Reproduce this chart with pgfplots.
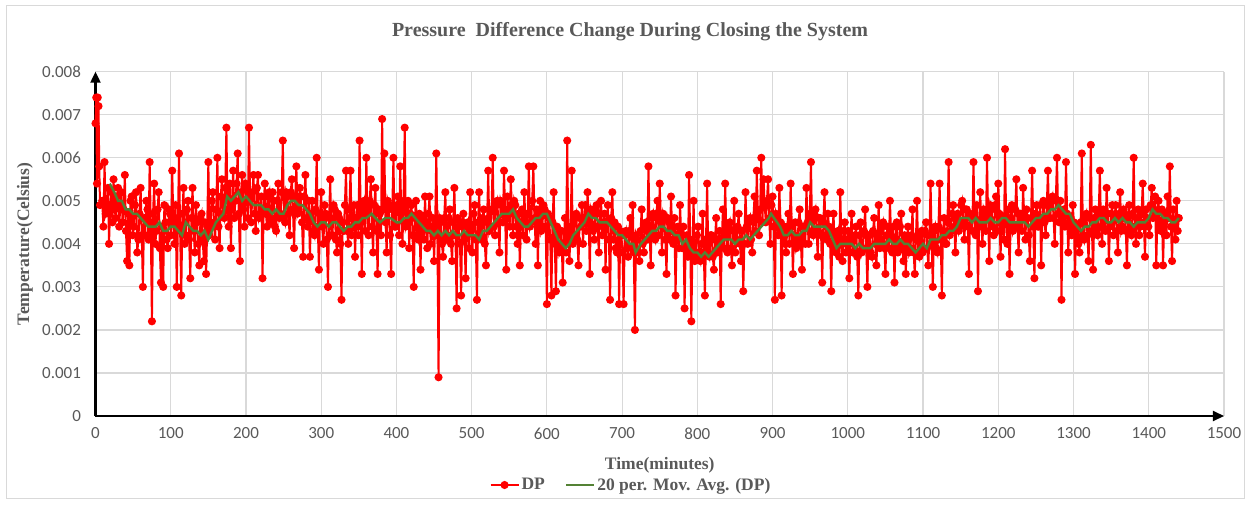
\documentclass[border=0pt]{standalone}
\usepackage{pgfplots}
\pgfplotsset{compat=1.18}
\usepackage{fontspec}
\setmainfont{Liberation Serif}
\newfontfamily\tickfont{Carlito}
\usetikzlibrary{arrows.meta}
\definecolor{txtgray}{HTML}{595959}
\definecolor{gridgray}{HTML}{D9D9D9}
\definecolor{dpred}{HTML}{FF0000}
\definecolor{magreen}{HTML}{548235}
\begin{document}
\begin{tikzpicture}
\useasboundingbox (0,0) rectangle (1250pt,504pt);
\draw[gridgray, line width=1pt] (6pt,6pt) rectangle (1244pt,498pt);
\begin{axis}[
  at={(95.5pt,88pt)}, anchor=south west,
  scale only axis, width=1128.5pt, height=344.3pt,
  xmin=0, xmax=1500, ymin=0, ymax=0.008,
  xtick={0,100,...,1500},
  ytick={0,0.001,0.002,0.003,0.004,0.005,0.006,0.007,0.008},
  scaled y ticks=false, scaled x ticks=false,
  /pgf/number format/assume math mode=true,
  yticklabel style={/pgf/number format/fixed, /pgf/number format/precision=3, font=\tickfont\fontsize{17}{17}\selectfont, text=txtgray, xshift=-11pt},
  xticklabel style={/pgf/number format/1000 sep={}, font=\tickfont\fontsize{17}{17}\selectfont, text=txtgray, yshift=-8pt},
  major tick length=0pt,
  axis x line=bottom, axis y line=left,
  axis line style={black, line width=2.2pt, -{Triangle[length=11pt,width=10pt]}},
  grid=major, major grid style={gridgray, line width=1.2pt},
  title={\fontsize{20}{20}\selectfont\bfseries Pressure~ Difference Change During Closing the System},
  title style={text=txtgray, at={(axis description cs:0.4737,1.098)}, anchor=center},
  xlabel={\fontsize{17.5}{17.5}\selectfont\bfseries Time(minutes)},
  xlabel style={text=txtgray, at={(axis description cs:0.5,-0.142)}, anchor=center},
  ylabel={\fontsize{17.5}{17.5}\selectfont\bfseries Temperature(Celsius)},
  ylabel style={text=txtgray, at={(axis description cs:-0.0625,0.5)}, anchor=center, rotate=0},
  legend columns=2,
  legend style={draw=none, fill=none, at={(axis description cs:0.4745,-0.2004)}, anchor=center,
    font=\fontsize{17.5}{17.5}\selectfont\bfseries, text=txtgray,
    /tikz/every even column/.append style={column sep=18pt}},
  legend image code/.code={\draw[mark repeat=2,mark phase=2,#1] plot coordinates {(0pt,0pt) (14pt,0pt) (28pt,0pt)};},
  clip=false, clip marker paths=true,
]
\addplot[dpred, line width=2pt, mark=*, mark size=3pt, mark options={fill=dpred, draw=dpred}] coordinates {
(0,0.0068)(1,0.0074)(2,0.0054)(3,0.0074)(4,0.0072)(5,0.0058)(6,0.0049)
(9,0.0050)(10.5,0.0044)(12,0.0059)(13.5,0.0047)(15,0.0048)(16.5,0.0053)(18,0.0040)(19.5,0.0049)(21,0.0052)(22.5,0.0045)(24,0.0055)(25.5,0.0048)(27,0.0046)(28.5,0.0051)(30,0.0053)(31.5,0.0044)
(33,0.0049)(34.5,0.0052)(36,0.0045)(37.5,0.0048)(39,0.0056)(40.5,0.0043)(42,0.0036)(43.5,0.0047)(45,0.0035)(46.5,0.0050)(48,0.0051)(49.5,0.0042)(51,0.0044)(52.5,0.0049)(54,0.0052)(55.5,0.0038)(57,0.0041)(58.5,0.0047)(60,0.0053)(61.5,0.0042)
(63,0.0030)(64.5,0.0046)(66,0.0042)(67.5,0.0050)(69,0.0048)(70.5,0.0041)(72,0.0059)(73.5,0.0044)(75,0.0022)(76.5,0.0047)(78,0.0054)(79.5,0.0040)(81,0.0043)(82.5,0.0048)(84,0.0052)(85.5,0.0039)(87,0.0031)(88.5,0.0044)(90,0.0030)(91.5,0.0049)
(93,0.0045)(94.5,0.0041)(96,0.0039)(97.5,0.0048)(99,0.0047)(100.5,0.0042)(102,0.0057)(103.5,0.0045)(105,0.0040)(106.5,0.0049)(108,0.0030)(109.5,0.0044)(111,0.0061)(112.5,0.0043)(114,0.0028)(115.5,0.0047)(117,0.0053)(118.5,0.0040)(120,0.0042)(121.5,0.0048)
(123,0.0050)(124.5,0.0041)(126,0.0032)(127.5,0.0046)(129,0.0053)(130.5,0.0043)(132,0.0038)(133.5,0.0049)(135,0.0045)(136.5,0.0040)(138,0.0035)(139.5,0.0046)(141,0.0047)(142.5,0.0041)(144,0.0036)(145.5,0.0045)(147,0.0033)(148.5,0.0044)(150,0.0059)(151.5,0.0042)
(153,0.0044)(154.5,0.0050)(156,0.0052)(157.5,0.0045)(159,0.0041)(160.5,0.0048)(162,0.0060)(163.5,0.0044)(165,0.0039)(166.5,0.0051)(168,0.0055)(169.5,0.0047)(171,0.0046)(172.5,0.0053)(174,0.0067)(175.5,0.0048)(177,0.0044)(178.5,0.0054)(180,0.0039)(181.5,0.0050)
(183,0.0057)(184.5,0.0046)(186,0.0050)(187.5,0.0054)(189,0.0061)(190.5,0.0047)(192,0.0036)(193.5,0.0052)(195,0.0056)(196.5,0.0048)(198,0.0044)(199.5,0.0054)(201,0.0053)(202.5,0.0046)(204,0.0067)(205.5,0.0050)(207,0.0045)(208.5,0.0052)(210,0.0056)(211.5,0.0047)
(213,0.0043)(214.5,0.0053)(216,0.0056)(217.5,0.0046)(219,0.0047)(220.5,0.0051)(222,0.0032)(223.5,0.0048)(225,0.0054)(226.5,0.0047)(228,0.0044)(229.5,0.0051)(231,0.0052)(232.5,0.0045)(234,0.0046)(235.5,0.0052)(237,0.0050)(238.5,0.0044)(240,0.0043)(241.5,0.0050)
(243,0.0054)(244.5,0.0046)(246,0.0047)(247.5,0.0052)(249,0.0064)(250.5,0.0046)(252,0.0045)(253.5,0.0052)(255,0.0051)(256.5,0.0047)(258,0.0042)(259.5,0.0052)(261,0.0055)(262.5,0.0048)(264,0.0039)(265.5,0.0051)(267,0.0058)(268.5,0.0047)(270,0.0048)(271.5,0.0053)
(273,0.0051)(274.5,0.0045)(276,0.0037)(277.5,0.0051)(279,0.0056)(280.5,0.0046)(282,0.0044)(283.5,0.0050)(285,0.0037)(286.5,0.0047)(288,0.0050)(289.5,0.0043)(291,0.0042)(292.5,0.0048)(294,0.0060)(295.5,0.0044)(297,0.0034)(298.5,0.0047)(300,0.0052)(301.5,0.0044)
(303,0.0040)(304.5,0.0049)(306,0.0047)(307.5,0.0041)(309,0.0030)(310.5,0.0046)(312,0.0055)(313.5,0.0042)(315,0.0042)(316.5,0.0049)(318,0.0048)(319.5,0.0041)(321,0.0038)(322.5,0.0047)(324,0.0046)(325.5,0.0040)(327,0.0027)(328.5,0.0045)(330,0.0043)(331.5,0.0049)
(333,0.0057)(334.5,0.0043)(336,0.0040)(337.5,0.0048)(339,0.0057)(340.5,0.0042)(342,0.0044)(343.5,0.0049)(345,0.0037)(346.5,0.0046)(348,0.0049)(349.5,0.0042)(351,0.0064)(352.5,0.0047)(354,0.0033)(355.5,0.0049)(357,0.0050)(358.5,0.0043)(360,0.0060)(361.5,0.0047)
(363,0.0042)(364.5,0.0050)(366,0.0055)(367.5,0.0044)(369,0.0038)(370.5,0.0049)(372,0.0053)(373.5,0.0043)(375,0.0033)(376.5,0.0048)(378,0.0047)(379.5,0.0042)(381,0.0069)(382.5,0.0048)(384,0.0061)(385.5,0.0045)(387,0.0038)(388.5,0.0050)(390,0.0049)(391.5,0.0042)
(393,0.0033)(394.5,0.0048)(396,0.0060)(397.5,0.0044)(399,0.0044)(400.5,0.0049)(402,0.0051)(403.5,0.0042)(405,0.0058)(406.5,0.0047)(408,0.0040)(409.5,0.0050)(411,0.0067)(412.5,0.0044)(414,0.0045)(415.5,0.0050)(417,0.0039)(418.5,0.0047)(420,0.0049)(421.5,0.0042)
(423,0.0030)(424.5,0.0046)(426,0.0050)(427.5,0.0042)(429,0.0041)(430.5,0.0047)(432,0.0034)(433.5,0.0045)(435,0.0046)(436.5,0.0041)(438,0.0051)(439.5,0.0044)(441,0.0039)(442.5,0.0047)(444,0.0051)(445.5,0.0040)(447,0.0043)(448.5,0.0046)(450,0.0036)(451.5,0.0044)
(453,0.0061)(454.5,0.0042)(456,0.0009)(457.5,0.0046)(459,0.0045)(460.5,0.0040)(462,0.0037)(463.5,0.0046)(465,0.0052)(466.5,0.0041)(468,0.0042)(469.5,0.0046)(471,0.0048)(472.5,0.0040)(474,0.0036)(475.5,0.0045)(477,0.0053)(478.5,0.0042)(480,0.0025)(481.5,0.0046)
(483,0.0044)(484.5,0.0040)(486,0.0028)(487.5,0.0045)(489,0.0047)(490.5,0.0041)(492,0.0032)(493.5,0.0044)(495,0.0045)(496.5,0.0039)(498,0.0052)(499.5,0.0043)(501,0.0038)(502.5,0.0047)(504,0.0049)(505.5,0.0041)(507,0.0027)(508.5,0.0045)(510,0.0052)(511.5,0.0042)
(513,0.0041)(514.5,0.0046)(516,0.0048)(517.5,0.0040)(519,0.0035)(520.5,0.0045)(522,0.0057)(523.5,0.0043)(525,0.0044)(526.5,0.0048)(528,0.0060)(529.5,0.0044)(531,0.0042)(532.5,0.0049)(534,0.0050)(535.5,0.0045)(537,0.0038)(538.5,0.0050)(540,0.0049)(541.5,0.0045)
(543,0.0057)(544.5,0.0047)(546,0.0034)(547.5,0.0051)(549,0.0047)(550.5,0.0044)(552,0.0055)(553.5,0.0048)(555,0.0042)(556.5,0.0050)(558,0.0049)(559.5,0.0044)(561,0.0040)(562.5,0.0047)(564,0.0035)(565.5,0.0045)(567,0.0048)(568.5,0.0042)(570,0.0052)(571.5,0.0045)
(573,0.0041)(574.5,0.0047)(576,0.0058)(577.5,0.0044)(579,0.0045)(580.5,0.0050)(582,0.0058)(583.5,0.0046)(585,0.0040)(586.5,0.0048)(588,0.0035)(589.5,0.0047)(591,0.0050)(592.5,0.0043)(594,0.0044)(595.5,0.0049)(597,0.0048)(598.5,0.0044)(600,0.0026)(601.5,0.0047)
(603,0.0046)(604.5,0.0041)(606,0.0028)(607.5,0.0045)(609,0.0052)(610.5,0.0040)(612,0.0029)(613.5,0.0044)(615,0.0042)(616.5,0.0038)(618,0.0039)(619.5,0.0043)(621,0.0031)(622.5,0.0040)(624,0.0046)(625.5,0.0038)(627,0.0064)(628.5,0.0041)(630,0.0036)(631.5,0.0044)
(633,0.0057)(634.5,0.0040)(636,0.0042)(637.5,0.0046)(639,0.0047)(640.5,0.0041)(642,0.0035)(643.5,0.0046)(645,0.0044)(646.5,0.0049)(648,0.0040)(649.5,0.0046)(651,0.0049)(652.5,0.0043)(654,0.0052)(655.5,0.0047)(657,0.0033)(658.5,0.0048)(660,0.0047)(661.5,0.0043)
(663,0.0041)(664.5,0.0048)(666,0.0049)(667.5,0.0044)(669,0.0038)(670.5,0.0047)(672,0.0050)(673.5,0.0042)(675,0.0044)(676.5,0.0047)(678,0.0034)(679.5,0.0045)(681,0.0049)(682.5,0.0041)(684,0.0027)(685.5,0.0046)(687,0.0052)(688.5,0.0041)(690,0.0045)(691.5,0.0039)
(693,0.0038)(694.5,0.0044)(696,0.0026)(697.5,0.0043)(699,0.0042)(700.5,0.0038)(702,0.0026)(703.5,0.0042)(705,0.0043)(706.5,0.0039)(708,0.0037)(709.5,0.0043)(711,0.0046)(712.5,0.0039)(714,0.0049)(715.5,0.0038)(717,0.0020)(718.5,0.0042)(720,0.0041)(721.5,0.0038)
(723,0.0036)(724.5,0.0043)(726,0.0048)(727.5,0.0040)(729,0.0038)(730.5,0.0044)(732,0.0045)(733.5,0.0041)(735,0.0058)(736.5,0.0043)(738,0.0035)(739.5,0.0046)(741,0.0047)(742.5,0.0042)(744,0.0041)(745.5,0.0047)(747,0.0050)(748.5,0.0042)(750,0.0054)(751.5,0.0045)
(753,0.0038)(754.5,0.0047)(756,0.0046)(757.5,0.0041)(759,0.0033)(760.5,0.0046)(762,0.0045)(763.5,0.0041)(765,0.0051)(766.5,0.0043)(768,0.0040)(769.5,0.0046)(771,0.0028)(772.5,0.0042)(774,0.0044)(775.5,0.0039)(777,0.0049)(778.5,0.0042)(780,0.0039)(781.5,0.0044)
(783,0.0025)(784.5,0.0040)(786,0.0042)(787.5,0.0037)(789,0.0056)(790.5,0.0041)(792,0.0022)(793.5,0.0039)(795,0.0050)(796.5,0.0036)(798,0.0038)(799.5,0.0042)(801,0.0044)(802.5,0.0037)(804,0.0036)(805.5,0.0040)(807,0.0047)(808.5,0.0038)(810,0.0028)(811.5,0.0041)
(813,0.0054)(814.5,0.0038)(816,0.0037)(817.5,0.0042)(819,0.0042)(820.5,0.0037)(822,0.0034)(823.5,0.0041)(825,0.0046)(826.5,0.0038)(828,0.0040)(829.5,0.0043)(831,0.0026)(832.5,0.0041)(834,0.0048)(835.5,0.0039)(837,0.0054)(838.5,0.0042)(840,0.0038)(841.5,0.0044)
(843,0.0045)(844.5,0.0039)(846,0.0035)(847.5,0.0043)(849,0.0050)(850.5,0.0038)(852,0.0041)(853.5,0.0044)(855,0.0047)(856.5,0.0040)(858,0.0036)(859.5,0.0043)(861,0.0029)(862.5,0.0040)(864,0.0052)(865.5,0.0044)(867,0.0040)(868.5,0.0045)(870,0.0046)(871.5,0.0041)
(873,0.0038)(874.5,0.0046)(876,0.0051)(877.5,0.0043)(879,0.0057)(880.5,0.0046)(882,0.0042)(883.5,0.0048)(885,0.0060)(886.5,0.0045)(888,0.0055)(889.5,0.0049)(891,0.0045)(892.5,0.0050)(894,0.0055)(895.5,0.0046)(897,0.0040)(898.5,0.0049)(900,0.0051)(901.5,0.0044)
(903,0.0027)(904.5,0.0047)(906,0.0046)(907.5,0.0042)(909,0.0053)(910.5,0.0045)(912,0.0028)(913.5,0.0043)(915,0.0044)(916.5,0.0040)(918,0.0038)(919.5,0.0044)(921,0.0047)(922.5,0.0040)(924,0.0054)(925.5,0.0044)(927,0.0033)(928.5,0.0042)(930,0.0045)(931.5,0.0039)
(933,0.0040)(934.5,0.0045)(936,0.0048)(937.5,0.0041)(939,0.0034)(940.5,0.0044)(942,0.0044)(943.5,0.0040)(945,0.0053)(946.5,0.0045)(948,0.0040)(949.5,0.0047)(951,0.0059)(952.5,0.0043)(954,0.0042)(955.5,0.0047)(957,0.0048)(958.5,0.0043)(960,0.0037)(961.5,0.0046)
(963,0.0046)(964.5,0.0042)(966,0.0031)(967.5,0.0045)(969,0.0052)(970.5,0.0042)(972,0.0041)(973.5,0.0047)(975,0.0044)(976.5,0.0040)(978,0.0029)(979.5,0.0043)(981,0.0047)(982.5,0.0039)(984,0.0038)(985.5,0.0042)(987,0.0043)(988.5,0.0037)(990,0.0052)(991.5,0.0040)
(993,0.0036)(994.5,0.0043)(996,0.0045)(997.5,0.0038)(999,0.0040)(1000.5,0.0043)(1002,0.0032)(1003.5,0.0041)(1005,0.0047)(1006.5,0.0038)(1008,0.0038)(1009.5,0.0042)(1011,0.0044)(1012.5,0.0037)(1014,0.0028)(1015.5,0.0042)(1017,0.0045)(1018.5,0.0038)(1020,0.0039)(1021.5,0.0043)
(1023,0.0048)(1024.5,0.0039)(1026,0.0030)(1027.5,0.0042)(1029,0.0042)(1030.5,0.0038)(1032,0.0037)(1033.5,0.0043)(1035,0.0046)(1036.5,0.0040)(1038,0.0035)(1039.5,0.0042)(1041,0.0049)(1042.5,0.0039)(1044,0.0041)(1045.5,0.0044)(1047,0.0045)(1048.5,0.0039)(1050,0.0033)(1051.5,0.0042)
(1053,0.0044)(1054.5,0.0039)(1056,0.0050)(1057.5,0.0042)(1059,0.0038)(1060.5,0.0044)(1062,0.0031)(1063.5,0.0041)(1065,0.0045)(1066.5,0.0038)(1068,0.0040)(1069.5,0.0044)(1071,0.0047)(1072.5,0.0039)(1074,0.0036)(1075.5,0.0042)(1077,0.0033)(1078.5,0.0041)(1080,0.0044)(1081.5,0.0038)
(1083,0.0039)(1084.5,0.0042)(1086,0.0048)(1087.5,0.0038)(1089,0.0033)(1090.5,0.0041)(1092,0.0050)(1093.5,0.0038)(1095,0.0037)(1096.5,0.0042)(1098,0.0043)(1099.5,0.0038)(1101,0.0039)(1102.5,0.0043)(1104,0.0045)(1105.5,0.0039)(1107,0.0035)(1108.5,0.0042)(1110,0.0054)(1111.5,0.0040)
(1113,0.0030)(1114.5,0.0043)(1116,0.0044)(1117.5,0.0039)(1119,0.0038)(1120.5,0.0044)(1122,0.0054)(1123.5,0.0041)(1125,0.0028)(1126.5,0.0043)(1128,0.0046)(1129.5,0.0040)(1131,0.0040)(1132.5,0.0045)(1134,0.0059)(1135.5,0.0042)(1137,0.0043)(1138.5,0.0047)(1140,0.0049)(1141.5,0.0044)
(1143,0.0038)(1144.5,0.0046)(1146,0.0047)(1147.5,0.0043)(1149,0.0044)(1150.5,0.0049)(1152,0.0050)(1153.5,0.0045)(1155,0.0041)(1156.5,0.0048)(1158,0.0048)(1159.5,0.0044)(1161,0.0033)(1162.5,0.0047)(1164,0.0046)(1165.5,0.0043)(1167,0.0059)(1168.5,0.0046)(1170,0.0042)(1171.5,0.0049)
(1173,0.0029)(1174.5,0.0045)(1176,0.0052)(1177.5,0.0044)(1179,0.0040)(1180.5,0.0048)(1182,0.0047)(1183.5,0.0043)(1185,0.0060)(1186.5,0.0046)(1188,0.0036)(1189.5,0.0049)(1191,0.0048)(1192.5,0.0044)(1194,0.0042)(1195.5,0.0049)(1197,0.0051)(1198.5,0.0043)(1200,0.0054)(1201.5,0.0047)
(1203,0.0037)(1204.5,0.0045)(1206,0.0046)(1207.5,0.0041)(1209,0.0062)(1210.5,0.0045)(1212,0.0040)(1213.5,0.0048)(1215,0.0033)(1216.5,0.0046)(1218,0.0049)(1219.5,0.0043)(1221,0.0044)(1222.5,0.0048)(1224,0.0055)(1225.5,0.0044)(1227,0.0038)(1228.5,0.0047)(1230,0.0047)(1231.5,0.0043)
(1233,0.0053)(1234.5,0.0046)(1236,0.0041)(1237.5,0.0048)(1239,0.0046)(1240.5,0.0042)(1242,0.0036)(1243.5,0.0046)(1245,0.0057)(1246.5,0.0044)(1248,0.0032)(1249.5,0.0047)(1251,0.0049)(1252.5,0.0044)(1254,0.0044)(1255.5,0.0049)(1257,0.0035)(1258.5,0.0046)(1260,0.0050)(1261.5,0.0045)
(1263,0.0042)(1264.5,0.0049)(1266,0.0057)(1267.5,0.0046)(1269,0.0046)(1270.5,0.0050)(1272,0.0051)(1273.5,0.0046)(1275,0.0040)(1276.5,0.0050)(1278,0.0060)(1279.5,0.0047)(1281,0.0045)(1282.5,0.0050)(1284,0.0027)(1285.5,0.0046)(1287,0.0048)(1288.5,0.0044)(1290,0.0059)(1291.5,0.0047)
(1293,0.0038)(1294.5,0.0045)(1296,0.0046)(1297.5,0.0042)(1299,0.0049)(1300.5,0.0045)(1302,0.0033)(1303.5,0.0043)(1305,0.0044)(1306.5,0.0040)(1308,0.0038)(1309.5,0.0045)(1311,0.0061)(1312.5,0.0042)(1314,0.0041)(1315.5,0.0046)(1317,0.0047)(1318.5,0.0042)(1320,0.0036)(1321.5,0.0046)
(1323,0.0063)(1324.5,0.0043)(1326,0.0034)(1327.5,0.0046)(1329,0.0048)(1330.5,0.0043)(1332,0.0042)(1333.5,0.0047)(1335,0.0057)(1336.5,0.0044)(1338,0.0040)(1339.5,0.0048)(1341,0.0046)(1342.5,0.0043)(1344,0.0053)(1345.5,0.0047)(1347,0.0036)(1348.5,0.0044)(1350,0.0047)(1351.5,0.0049)
(1353,0.0042)(1354.5,0.0046)(1356,0.0049)(1357.5,0.0043)(1359,0.0038)(1360.5,0.0047)(1362,0.0052)(1363.5,0.0043)(1365,0.0044)(1366.5,0.0048)(1368,0.0047)(1369.5,0.0043)(1371,0.0035)(1372.5,0.0046)(1374,0.0049)(1375.5,0.0043)(1377,0.0042)(1378.5,0.0047)(1380,0.0060)(1381.5,0.0044)
(1383,0.0040)(1384.5,0.0046)(1386,0.0048)(1387.5,0.0042)(1389,0.0044)(1390.5,0.0047)(1392,0.0054)(1393.5,0.0045)(1395,0.0037)(1396.5,0.0048)(1398,0.0046)(1399.5,0.0044)(1401,0.0042)(1402.5,0.0049)(1404,0.0053)(1405.5,0.0046)(1407,0.0048)(1408.5,0.0051)(1410,0.0035)(1411.5,0.0047)
(1413,0.0050)(1414.5,0.0044)(1416,0.0043)(1417.5,0.0048)(1419,0.0035)(1420.5,0.0045)(1422,0.0047)(1423.5,0.0042)(1425,0.0051)(1426.5,0.0046)(1428,0.0058)(1429.5,0.0044)(1431,0.0036)(1432.5,0.0048)(1434,0.0045)(1435.5,0.0041)(1437,0.0050)(1438.5,0.0043)(1440,0.0046)
};
\addlegendentry{DP}
\addplot[magreen, line width=2.4pt, mark=none] coordinates {
(19,0.0054)(25,0.0052)(30,0.0050)(35,0.0050)(40,0.0048)(45,0.0048)(50,0.0047)(55,0.0047)(60,0.0046)(65,0.0045)
(70,0.0044)(75,0.0044)(80,0.0044)(85,0.0045)(90,0.0043)(95,0.0043)(100,0.0044)(105,0.0044)(110,0.0043)(115,0.0042)
(120,0.0045)(125,0.0044)(130,0.0043)(135,0.0043)(140,0.0042)(145,0.0043)(150,0.0041)(155,0.0043)(160,0.0045)(165,0.0046)
(170,0.0047)(175,0.0051)(180,0.0050)(185,0.0051)(190,0.0052)(195,0.0050)(200,0.0051)(205,0.0050)(210,0.0049)(215,0.0049)
(220,0.0049)(225,0.0048)(230,0.0048)(235,0.0047)(240,0.0048)(245,0.0047)(250,0.0047)(255,0.0049)(260,0.0050)(265,0.0050)
(270,0.0049)(275,0.0049)(280,0.0048)(285,0.0047)(290,0.0045)(295,0.0044)(300,0.0045)(305,0.0045)(310,0.0044)(315,0.0045)
(320,0.0045)(325,0.0044)(330,0.0043)(335,0.0044)(340,0.0044)(345,0.0045)(350,0.0045)(355,0.0046)(360,0.0046)(367,0.0047)
(372,0.0046)(378,0.0045)(385,0.0046)(392,0.0046)(400,0.0045)(405,0.0045)(410,0.0046)(415,0.0046)(420,0.0047)(425,0.0046)
(430,0.0045)(435,0.0044)(440,0.0043)(445,0.0043)(450,0.0042)(455,0.0043)(460,0.0042)(465,0.0043)(470,0.0042)(475,0.0043)
(480,0.0042)(485,0.0042)(490,0.0043)(495,0.0042)(500,0.0042)(505,0.0042)(510,0.0041)(515,0.0043)(520,0.0043)(525,0.0044)
(530,0.0045)(535,0.0046)(540,0.0047)(545,0.0047)(550,0.0047)(555,0.0048)(560,0.0046)(565,0.0045)(570,0.0044)(575,0.0044)
(580,0.0045)(585,0.0046)(590,0.0046)(595,0.0047)(600,0.0047)(605,0.0045)(610,0.0043)(615,0.0041)(620,0.0040)(625,0.0039)
(630,0.0040)(635,0.0042)(640,0.0043)(645,0.0044)(650,0.0045)(655,0.0047)(660,0.0046)(665,0.0046)(670,0.0045)(675,0.0045)
(680,0.0045)(685,0.0044)(690,0.0043)(695,0.0042)(700,0.0042)(705,0.0041)(710,0.0040)(715,0.0040)(718,0.0038)(725,0.0040)
(730,0.0041)(735,0.0042)(740,0.0043)(745,0.0043)(750,0.0044)(755,0.0044)(760,0.0043)(765,0.0043)(770,0.0042)(775,0.0042)
(780,0.0040)(785,0.0041)(790,0.0039)(795,0.0038)(800,0.0038)(805,0.0037)(810,0.0038)(815,0.0037)(820,0.0038)(825,0.0039)
(830,0.0040)(835,0.0041)(840,0.0041)(845,0.0041)(850,0.0040)(855,0.0041)(860,0.0041)(865,0.0042)(870,0.0041)(875,0.0042)
(880,0.0043)(885,0.0044)(890,0.0045)(895,0.0046)(898,0.0047)(902,0.0046)(906,0.0045)(910,0.0044)(915,0.0042)(920,0.0042)
(925,0.0043)(930,0.0042)(935,0.0042)(940,0.0043)(945,0.0043)(950,0.0045)(955,0.0044)(960,0.0044)(965,0.0044)(970,0.0044)
(975,0.0043)(980,0.0041)(985,0.0039)(990,0.0040)(995,0.0040)(1000,0.0040)(1005,0.0040)(1010,0.0039)(1015,0.0040)(1020,0.0039)
(1025,0.0039)(1030,0.0039)(1035,0.0040)(1040,0.0040)(1045,0.0040)(1050,0.0040)(1055,0.0041)(1060,0.0040)(1065,0.0040)(1070,0.0041)
(1075,0.0040)(1080,0.0040)(1085,0.0039)(1090,0.0038)(1095,0.0039)(1100,0.0040)(1105,0.0039)(1110,0.0041)(1115,0.0041)(1120,0.0041)
(1125,0.0042)(1130,0.0042)(1135,0.0043)(1140,0.0043)(1145,0.0044)(1150,0.0046)(1155,0.0046)(1160,0.0046)(1165,0.0045)(1170,0.0046)
(1175,0.0045)(1180,0.0045)(1185,0.0045)(1190,0.0046)(1195,0.0045)(1200,0.0045)(1205,0.0046)(1210,0.0046)(1215,0.0045)(1220,0.0045)
(1225,0.0045)(1230,0.0045)(1235,0.0045)(1240,0.0044)(1245,0.0045)(1250,0.0046)(1255,0.0046)(1260,0.0047)(1265,0.0047)(1270,0.0048)
(1275,0.0048)(1280,0.0049)(1285,0.0048)(1290,0.0047)(1295,0.0047)(1300,0.0045)(1305,0.0044)(1310,0.0043)(1315,0.0044)(1320,0.0044)
(1325,0.0045)(1330,0.0045)(1335,0.0046)(1340,0.0046)(1345,0.0045)(1350,0.0045)(1355,0.0046)(1360,0.0045)(1365,0.0046)(1370,0.0045)
(1375,0.0045)(1380,0.0044)(1385,0.0045)(1390,0.0045)(1395,0.0045)(1400,0.0046)(1405,0.0048)(1410,0.0047)(1415,0.0047)(1420,0.0046)
(1425,0.0046)(1430,0.0045)(1435,0.0045)(1440,0.0046)
};
\addlegendentry{20 per. Mov. Avg. (DP)}
\end{axis}
\end{tikzpicture}
\end{document}
